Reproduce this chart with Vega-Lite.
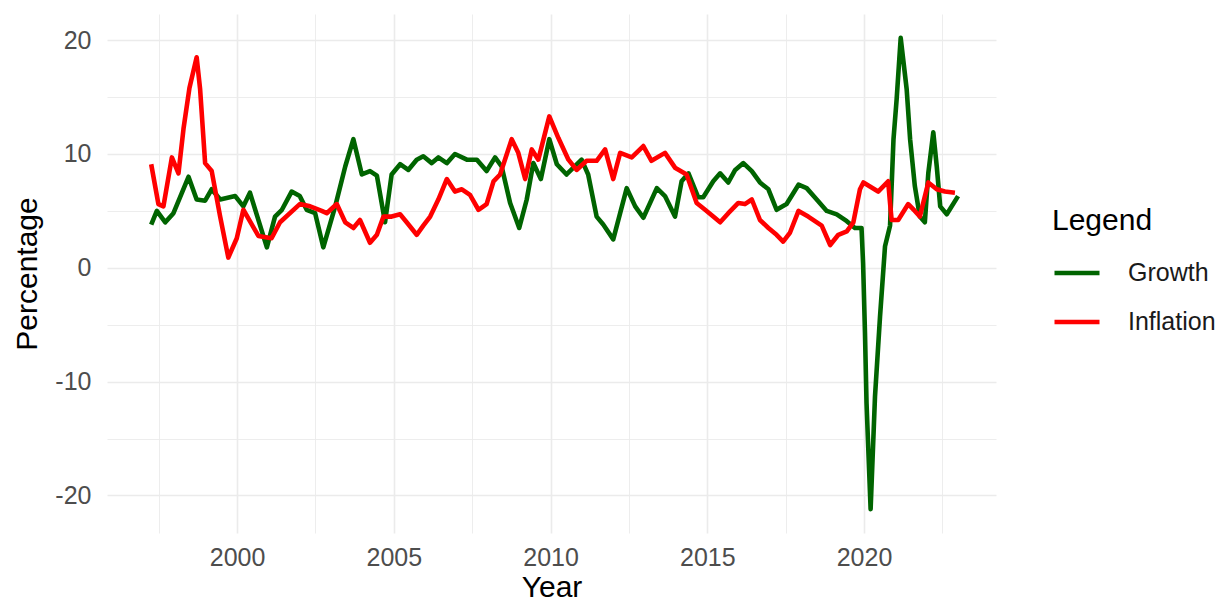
{
  "$schema": "https://vega.github.io/schema/vega-lite/v6.json",
  "autosize": {"type": "none"},
  "width": 889,
  "height": 519,
  "padding": {"left": 107, "top": 14, "right": 232, "bottom": 70},
  "background": "white",
  "config": {"view": {"stroke": null}, "font": "Liberation Sans"},
  "data": {"values": [
    {"year": 1997.26, "series": "Growth", "value": 3.8},
    {"year": 1997.44, "series": "Growth", "value": 5.0},
    {"year": 1997.71, "series": "Growth", "value": 4.0},
    {"year": 1997.97, "series": "Growth", "value": 4.8},
    {"year": 1998.45, "series": "Growth", "value": 8.0},
    {"year": 1998.71, "series": "Growth", "value": 6.0},
    {"year": 1998.98, "series": "Growth", "value": 5.9},
    {"year": 1999.19, "series": "Growth", "value": 6.9},
    {"year": 1999.46, "series": "Growth", "value": 6.0},
    {"year": 1999.94, "series": "Growth", "value": 6.3},
    {"year": 2000.2, "series": "Growth", "value": 5.4},
    {"year": 2000.41, "series": "Growth", "value": 6.6},
    {"year": 2000.95, "series": "Growth", "value": 1.8},
    {"year": 2001.21, "series": "Growth", "value": 4.5},
    {"year": 2001.43, "series": "Growth", "value": 5.1},
    {"year": 2001.74, "series": "Growth", "value": 6.7},
    {"year": 2002.0, "series": "Growth", "value": 6.3},
    {"year": 2002.22, "series": "Growth", "value": 5.1},
    {"year": 2002.49, "series": "Growth", "value": 4.8},
    {"year": 2002.75, "series": "Growth", "value": 1.8},
    {"year": 2003.13, "series": "Growth", "value": 5.4},
    {"year": 2003.45, "series": "Growth", "value": 8.9},
    {"year": 2003.71, "series": "Growth", "value": 11.3},
    {"year": 2003.98, "series": "Growth", "value": 8.2},
    {"year": 2004.24, "series": "Growth", "value": 8.5},
    {"year": 2004.46, "series": "Growth", "value": 8.1},
    {"year": 2004.72, "series": "Growth", "value": 4.0},
    {"year": 2004.93, "series": "Growth", "value": 8.2},
    {"year": 2005.2, "series": "Growth", "value": 9.1},
    {"year": 2005.46, "series": "Growth", "value": 8.6},
    {"year": 2005.73, "series": "Growth", "value": 9.5},
    {"year": 2005.94, "series": "Growth", "value": 9.8},
    {"year": 2006.21, "series": "Growth", "value": 9.2},
    {"year": 2006.42, "series": "Growth", "value": 9.7},
    {"year": 2006.69, "series": "Growth", "value": 9.2},
    {"year": 2006.95, "series": "Growth", "value": 10.0},
    {"year": 2007.33, "series": "Growth", "value": 9.5},
    {"year": 2007.65, "series": "Growth", "value": 9.5},
    {"year": 2007.96, "series": "Growth", "value": 8.5},
    {"year": 2008.23, "series": "Growth", "value": 9.7},
    {"year": 2008.44, "series": "Growth", "value": 8.9},
    {"year": 2008.71, "series": "Growth", "value": 5.7},
    {"year": 2009.0, "series": "Growth", "value": 3.5},
    {"year": 2009.24, "series": "Growth", "value": 6.0},
    {"year": 2009.45, "series": "Growth", "value": 9.2},
    {"year": 2009.69, "series": "Growth", "value": 7.8},
    {"year": 2009.96, "series": "Growth", "value": 11.3},
    {"year": 2010.2, "series": "Growth", "value": 9.1},
    {"year": 2010.51, "series": "Growth", "value": 8.2},
    {"year": 2010.99, "series": "Growth", "value": 9.5},
    {"year": 2011.2, "series": "Growth", "value": 8.2},
    {"year": 2011.47, "series": "Growth", "value": 4.5},
    {"year": 2011.68, "series": "Growth", "value": 3.8},
    {"year": 2012.0, "series": "Growth", "value": 2.5},
    {"year": 2012.22, "series": "Growth", "value": 4.8},
    {"year": 2012.43, "series": "Growth", "value": 7.0},
    {"year": 2012.7, "series": "Growth", "value": 5.4},
    {"year": 2012.96, "series": "Growth", "value": 4.4},
    {"year": 2013.39, "series": "Growth", "value": 7.0},
    {"year": 2013.65, "series": "Growth", "value": 6.3},
    {"year": 2013.97, "series": "Growth", "value": 4.5},
    {"year": 2014.18, "series": "Growth", "value": 7.6},
    {"year": 2014.4, "series": "Growth", "value": 8.3},
    {"year": 2014.71, "series": "Growth", "value": 6.2},
    {"year": 2014.87, "series": "Growth", "value": 6.2},
    {"year": 2015.19, "series": "Growth", "value": 7.6},
    {"year": 2015.41, "series": "Growth", "value": 8.3},
    {"year": 2015.67, "series": "Growth", "value": 7.5},
    {"year": 2015.89, "series": "Growth", "value": 8.6},
    {"year": 2016.15, "series": "Growth", "value": 9.2},
    {"year": 2016.42, "series": "Growth", "value": 8.5},
    {"year": 2016.68, "series": "Growth", "value": 7.5},
    {"year": 2016.95, "series": "Growth", "value": 6.9},
    {"year": 2017.21, "series": "Growth", "value": 5.1},
    {"year": 2017.53, "series": "Growth", "value": 5.6},
    {"year": 2017.91, "series": "Growth", "value": 7.3},
    {"year": 2018.17, "series": "Growth", "value": 7.0},
    {"year": 2018.49, "series": "Growth", "value": 6.0},
    {"year": 2018.81, "series": "Growth", "value": 5.0},
    {"year": 2019.13, "series": "Growth", "value": 4.7},
    {"year": 2019.45, "series": "Growth", "value": 4.1},
    {"year": 2019.71, "series": "Growth", "value": 3.5},
    {"year": 2019.92, "series": "Growth", "value": 3.5},
    {"year": 2019.97, "series": "Growth", "value": 0.4},
    {"year": 2020.03, "series": "Growth", "value": -5.7},
    {"year": 2020.08, "series": "Growth", "value": -11.9},
    {"year": 2020.21, "series": "Growth", "value": -21.2},
    {"year": 2020.35, "series": "Growth", "value": -11.3},
    {"year": 2020.51, "series": "Growth", "value": -4.3},
    {"year": 2020.67, "series": "Growth", "value": 1.9},
    {"year": 2020.83, "series": "Growth", "value": 3.7},
    {"year": 2020.94, "series": "Growth", "value": 11.3},
    {"year": 2021.04, "series": "Growth", "value": 14.8},
    {"year": 2021.17, "series": "Growth", "value": 20.2},
    {"year": 2021.25, "series": "Growth", "value": 18.3},
    {"year": 2021.36, "series": "Growth", "value": 15.7},
    {"year": 2021.47, "series": "Growth", "value": 11.3},
    {"year": 2021.62, "series": "Growth", "value": 7.2},
    {"year": 2021.78, "series": "Growth", "value": 4.5},
    {"year": 2021.94, "series": "Growth", "value": 4.0},
    {"year": 2022.05, "series": "Growth", "value": 8.3},
    {"year": 2022.21, "series": "Growth", "value": 11.9},
    {"year": 2022.32, "series": "Growth", "value": 8.9},
    {"year": 2022.43, "series": "Growth", "value": 5.4},
    {"year": 2022.64, "series": "Growth", "value": 4.7},
    {"year": 2023.0, "series": "Growth", "value": 6.3},
    {"year": 1997.26, "series": "Inflation", "value": 9.1},
    {"year": 1997.49, "series": "Inflation", "value": 5.6},
    {"year": 1997.65, "series": "Inflation", "value": 5.4},
    {"year": 1997.92, "series": "Inflation", "value": 9.7},
    {"year": 1998.13, "series": "Inflation", "value": 8.3},
    {"year": 1998.29, "series": "Inflation", "value": 12.2},
    {"year": 1998.48, "series": "Inflation", "value": 15.8},
    {"year": 1998.71, "series": "Inflation", "value": 18.5},
    {"year": 1998.82, "series": "Inflation", "value": 15.7},
    {"year": 1998.98, "series": "Inflation", "value": 9.2},
    {"year": 1999.19, "series": "Inflation", "value": 8.5},
    {"year": 1999.46, "series": "Inflation", "value": 4.5},
    {"year": 1999.72, "series": "Inflation", "value": 0.9},
    {"year": 1999.99, "series": "Inflation", "value": 2.6},
    {"year": 2000.2, "series": "Inflation", "value": 5.1},
    {"year": 2000.68, "series": "Inflation", "value": 2.8},
    {"year": 2001.1, "series": "Inflation", "value": 2.6},
    {"year": 2001.37, "series": "Inflation", "value": 4.0},
    {"year": 2002.0, "series": "Inflation", "value": 5.6},
    {"year": 2002.33, "series": "Inflation", "value": 5.4},
    {"year": 2002.7, "series": "Inflation", "value": 5.0},
    {"year": 2002.86, "series": "Inflation", "value": 4.8},
    {"year": 2003.18, "series": "Inflation", "value": 5.6},
    {"year": 2003.45, "series": "Inflation", "value": 4.0},
    {"year": 2003.71, "series": "Inflation", "value": 3.5},
    {"year": 2003.92, "series": "Inflation", "value": 4.2},
    {"year": 2004.24, "series": "Inflation", "value": 2.2},
    {"year": 2004.46, "series": "Inflation", "value": 2.9},
    {"year": 2004.67, "series": "Inflation", "value": 4.5},
    {"year": 2004.93, "series": "Inflation", "value": 4.5},
    {"year": 2005.2, "series": "Inflation", "value": 4.7},
    {"year": 2005.41, "series": "Inflation", "value": 4.0},
    {"year": 2005.73, "series": "Inflation", "value": 2.9},
    {"year": 2005.94, "series": "Inflation", "value": 3.7},
    {"year": 2006.16, "series": "Inflation", "value": 4.5},
    {"year": 2006.42, "series": "Inflation", "value": 6.0},
    {"year": 2006.69, "series": "Inflation", "value": 7.8},
    {"year": 2006.95, "series": "Inflation", "value": 6.7},
    {"year": 2007.17, "series": "Inflation", "value": 6.9},
    {"year": 2007.43, "series": "Inflation", "value": 6.4},
    {"year": 2007.7, "series": "Inflation", "value": 5.1},
    {"year": 2007.96, "series": "Inflation", "value": 5.6},
    {"year": 2008.18, "series": "Inflation", "value": 7.6},
    {"year": 2008.39, "series": "Inflation", "value": 8.2},
    {"year": 2008.76, "series": "Inflation", "value": 11.3},
    {"year": 2008.97, "series": "Inflation", "value": 10.1},
    {"year": 2009.19, "series": "Inflation", "value": 7.8},
    {"year": 2009.4, "series": "Inflation", "value": 10.4},
    {"year": 2009.61, "series": "Inflation", "value": 9.5},
    {"year": 2009.96, "series": "Inflation", "value": 13.3},
    {"year": 2010.25, "series": "Inflation", "value": 11.4},
    {"year": 2010.57, "series": "Inflation", "value": 9.5},
    {"year": 2010.83, "series": "Inflation", "value": 8.6},
    {"year": 2011.15, "series": "Inflation", "value": 9.4},
    {"year": 2011.47, "series": "Inflation", "value": 9.4},
    {"year": 2011.74, "series": "Inflation", "value": 10.4},
    {"year": 2012.0, "series": "Inflation", "value": 7.8},
    {"year": 2012.22, "series": "Inflation", "value": 10.1},
    {"year": 2012.59, "series": "Inflation", "value": 9.7},
    {"year": 2012.96, "series": "Inflation", "value": 10.7},
    {"year": 2013.22, "series": "Inflation", "value": 9.4},
    {"year": 2013.65, "series": "Inflation", "value": 10.1},
    {"year": 2013.97, "series": "Inflation", "value": 8.8},
    {"year": 2014.34, "series": "Inflation", "value": 8.2},
    {"year": 2014.66, "series": "Inflation", "value": 5.7},
    {"year": 2014.93, "series": "Inflation", "value": 5.1},
    {"year": 2015.19, "series": "Inflation", "value": 4.5},
    {"year": 2015.41, "series": "Inflation", "value": 4.0},
    {"year": 2015.67, "series": "Inflation", "value": 4.8},
    {"year": 2015.99, "series": "Inflation", "value": 5.7},
    {"year": 2016.2, "series": "Inflation", "value": 5.6},
    {"year": 2016.42, "series": "Inflation", "value": 6.0},
    {"year": 2016.68, "series": "Inflation", "value": 4.2},
    {"year": 2016.95, "series": "Inflation", "value": 3.5},
    {"year": 2017.21, "series": "Inflation", "value": 2.9},
    {"year": 2017.42, "series": "Inflation", "value": 2.3},
    {"year": 2017.64, "series": "Inflation", "value": 3.1},
    {"year": 2017.91, "series": "Inflation", "value": 5.0},
    {"year": 2018.22, "series": "Inflation", "value": 4.5},
    {"year": 2018.65, "series": "Inflation", "value": 3.7},
    {"year": 2018.92, "series": "Inflation", "value": 2.0},
    {"year": 2019.18, "series": "Inflation", "value": 2.9},
    {"year": 2019.45, "series": "Inflation", "value": 3.2},
    {"year": 2019.66, "series": "Inflation", "value": 4.0},
    {"year": 2019.87, "series": "Inflation", "value": 6.9},
    {"year": 2019.98, "series": "Inflation", "value": 7.5},
    {"year": 2020.45, "series": "Inflation", "value": 6.7},
    {"year": 2020.77, "series": "Inflation", "value": 7.6},
    {"year": 2020.83, "series": "Inflation", "value": 5.7},
    {"year": 2020.88, "series": "Inflation", "value": 4.2},
    {"year": 2021.09, "series": "Inflation", "value": 4.2},
    {"year": 2021.41, "series": "Inflation", "value": 5.6},
    {"year": 2021.62, "series": "Inflation", "value": 5.0},
    {"year": 2021.78, "series": "Inflation", "value": 4.5},
    {"year": 2022.05, "series": "Inflation", "value": 7.5},
    {"year": 2022.32, "series": "Inflation", "value": 6.9},
    {"year": 2022.58, "series": "Inflation", "value": 6.7},
    {"year": 2022.9, "series": "Inflation", "value": 6.6}
  ]},
  "mark": {"type": "line", "strokeWidth": 4.6, "strokeJoin": "round", "strokeCap": "butt"},
  "encoding": {
    "x": {
      "field": "year", "type": "quantitative",
      "scale": {"domain": [1995.85, 2024.21], "nice": false, "zero": false},
      "axis": {
        "title": "Year",
        "values": [1997.5, 2000, 2002.5, 2005, 2007.5, 2010, 2012.5, 2015, 2017.5, 2020, 2022.5],
        "labelExpr": "datum.value % 5 === 0 ? '' + datum.value : ''",
        "grid": true,
        "gridColor": "#EBEBEB",
        "gridWidth": {"condition": {"test": "datum.value % 5 === 0", "value": 1.6}, "value": 0.9},
        "domain": false,
        "ticks": false,
        "tickSize": 0,
        "labelFontSize": 25,
        "labelColor": "#4D4D4D",
        "labelBaseline": "alphabetic",
        "labelPadding": 32,
        "labelFlush": false,
        "labelOverlap": false,
        "titleFontSize": 30,
        "titleFontWeight": "normal",
        "titleColor": "#000000",
        "titleBaseline": "alphabetic",
        "titleY": 63
      }
    },
    "y": {
      "field": "value", "type": "quantitative",
      "scale": {"domain": [-23.3, 22.3], "nice": false, "zero": false},
      "axis": {
        "title": "Percentage",
        "values": [-20, -15, -10, -5, 0, 5, 10, 15, 20],
        "labelExpr": "datum.value % 10 === 0 ? '' + datum.value : ''",
        "grid": true,
        "gridColor": "#EBEBEB",
        "gridWidth": {"condition": {"test": "datum.value % 10 === 0", "value": 1.6}, "value": 0.9},
        "domain": false,
        "ticks": false,
        "tickSize": 0,
        "labelFontSize": 25,
        "labelColor": "#4D4D4D",
        "labelPadding": 16,
        "labelFlush": false,
        "labelOverlap": false,
        "titleFontSize": 30,
        "titleFontWeight": "normal",
        "titleColor": "#000000",
        "titleAngle": -90,
        "titleBaseline": "alphabetic",
        "titleX": -71
      }
    },
    "color": {
      "field": "series", "type": "nominal",
      "scale": {"domain": ["Growth", "Inflation"], "range": ["#006400", "#FF0000"]},
      "legend": {
        "title": "Legend",
        "orient": "none",
        "legendX": 945,
        "legendY": 192,
        "padding": 0,
        "symbolType": "stroke",
        "symbolSize": 2025,
        "symbolStrokeWidth": 4.5,
        "labelOffset": 26,
        "rowPadding": 11,
        "labelFontSize": 25,
        "labelColor": "#1A1A1A",
        "titleFontSize": 30,
        "titleFontWeight": "normal",
        "titleColor": "#000000",
        "titlePadding": 12
      }
    }
  }
}
